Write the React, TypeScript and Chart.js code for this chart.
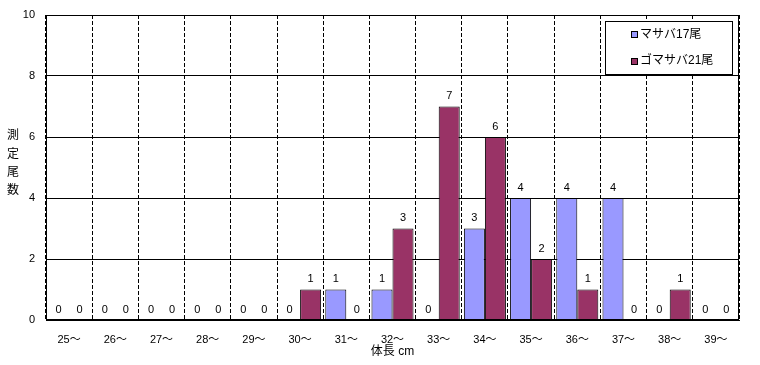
import React, { useEffect, useRef } from "react";
import { Chart, registerables } from "chart.js";
Chart.register(...registerables);

const categories = ["25～", "26～", "27～", "28～", "29～", "30～", "31～", "32～", "33～", "34～", "35～", "36～", "37～", "38～", "39～"];
const masaba = [0, 0, 0, 0, 0, 0, 1, 1, 0, 3, 4, 4, 4, 0, 0];
const gomasaba = [0, 0, 0, 0, 0, 1, 0, 3, 7, 6, 2, 1, 0, 1, 0];
const seriesLabels = ["マサバ17尾", "ゴマサバ21尾"];
const seriesColors = ["#9999FF", "#993366"];
const yMin = 0;
const yMax = 10;
const yStep = 2;
const yTitle = "測定尾数";
const xTitle = "体長 cm";

const FONT = "'Liberation Sans', 'Noto Sans CJK JP', sans-serif";

const extras = {
  id: "extras",
  afterDatasetsDraw(chart: any) {
    const ctx = chart.ctx;
    ctx.save();
    ctx.fillStyle = "#000";
    ctx.font = `11px ${FONT}`;
    ctx.textAlign = "center";
    ctx.textBaseline = "bottom";
    chart.data.datasets.forEach((ds: any, di: number) => {
      const meta = chart.getDatasetMeta(di);
      meta.data.forEach((el: any, i: number) => {
        ctx.fillText(String(ds.data[i]), el.x, el.y - 5);
      });
    });
    ctx.restore();
  },
  afterDraw(chart: any) {
    const ctx = chart.ctx;
    const a = chart.chartArea;
    ctx.save();
    // plot border
    ctx.strokeStyle = "#000";
    ctx.lineWidth = 1;
    ctx.setLineDash([]);
    ctx.strokeRect(Math.round(a.left) + 0.5, Math.round(a.top) + 0.5, Math.round(a.right - a.left) - 1, Math.round(a.bottom - a.top) - 1);
    // y title stacked
    ctx.fillStyle = "#000";
    ctx.font = `12px ${FONT}`;
    ctx.textAlign = "center";
    ctx.textBaseline = "middle";
    const chars = Array.from(yTitle);
    const cy = (a.top + a.bottom) / 2;
    const sp = 18.3;
    chars.forEach((c, i) => {
      ctx.fillText(c, 13, cy + (i - (chars.length - 1) / 2) * sp - 4);
    });
    // legend
    const lx = 605, ly = 21, lw = 127, lh = 53;
    ctx.fillStyle = "#fff";
    ctx.fillRect(lx, ly, lw, lh);
    ctx.strokeStyle = "#000";
    ctx.lineWidth = 1;
    ctx.strokeRect(lx + 0.5, ly + 0.5, lw, lh);
    chart.data.datasets.forEach((ds: any, di: number) => {
      const y = ly + 13.5 + di * 26.5;
      ctx.fillStyle = ds.backgroundColor;
      ctx.fillRect(631, Math.round(y - 3.5), 7, 7);
      ctx.strokeStyle = "#000";
      ctx.strokeRect(631.5, Math.round(y - 3.5) + 0.5, 6, 6);
      ctx.fillStyle = "#000";
      ctx.font = `12px ${FONT}`;
      ctx.textAlign = "left";
      ctx.textBaseline = "middle";
      ctx.fillText(ds.label, 640, y);
    });
    ctx.restore();
  },
};

export default function App() {
  const ref = useRef<HTMLCanvasElement>(null);
  useEffect(() => {
    if (!ref.current) return;
    const chart = new Chart(ref.current, {
      type: "bar",
      data: {
        labels: categories,
        datasets: [
          { label: seriesLabels[0], data: masaba, backgroundColor: seriesColors[0], borderColor: "#000", borderWidth: 1 },
          { label: seriesLabels[1], data: gomasaba, backgroundColor: seriesColors[1], borderColor: "#000", borderWidth: 1 },
        ],
      },
      options: {
        animation: false,
        responsive: false,
        devicePixelRatio: 1,
        layout: { padding: { top: 15, right: 21, left: 0, bottom: 0 } },
        datasets: { bar: { categoryPercentage: 0.91, barPercentage: 1 } },
        plugins: { legend: { display: false }, tooltip: { enabled: false } },
        scales: {
          x: {
            offset: true,
            grid: { display: true, offset: true, color: "#000", lineWidth: 1, drawTicks: false },
            border: { display: true, color: "#000", dash: [4, 2] },
            ticks: { color: "#000", font: { family: FONT, size: 11 }, padding: 13, maxRotation: 0, autoSkip: false },
            title: { display: true, text: xTitle, color: "#000", font: { family: FONT, size: 12 }, padding: { top: 0, bottom: 6 } },
            afterFit: (s: any) => { s.height = 45; s.paddingLeft = 0; s.paddingRight = 0; },
          },
          y: {
            min: yMin,
            max: yMax,
            grid: { color: "#000", lineWidth: 1, drawTicks: false },
            border: { display: true, color: "#000" },
            ticks: { stepSize: yStep, color: "#000", font: { family: FONT, size: 11 }, padding: 11 },
            afterFit: (s: any) => { s.width = 46; s.paddingTop = 0; s.paddingBottom = 0; },
          },
        },
      },
      plugins: [extras],
    });
    return () => chart.destroy();
  }, []);
  return (
    <div style={{ position: "absolute", left: 0, top: 0, width: 760, height: 365, background: "#fff" }}>
      <canvas ref={ref} width={760} height={365} style={{ width: 760, height: 365 }} />
    </div>
  );
}
